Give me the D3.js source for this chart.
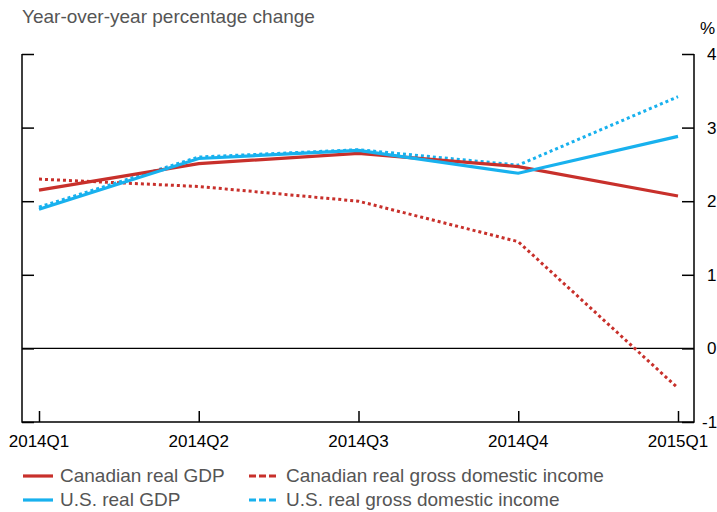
<!DOCTYPE html>
<html>
<head>
<meta charset="utf-8">
<script src="https://cdn.jsdelivr.net/npm/d3@7"></script>
<style>
  body { margin: 0; background: #fff; }
  text { font-family: "Liberation Sans", Arial, sans-serif; }
</style>
</head>
<body>
<div id="chart"></div>
<script>
// quarters along the bottom
var quarters = ["2014Q1", "2014Q2", "2014Q3", "2014Q4", "2015Q1"];
// year-over-year % change
var canGdp = [2.15, 2.51, 2.65, 2.47, 2.07];
var usGdp = [1.89, 2.58, 2.69, 2.38, 2.88];
var canGdi = [2.30, 2.20, 2.00, 1.45, -0.54];
var usGdi = [1.92, 2.60, 2.70, 2.49, 3.42];
var yTicks = [-1, 0, 1, 2, 3, 4];

var red = "#c8302b";
var blue = "#18b1ee";

var series = [
  { name: "Canadian real GDP", values: canGdp, color: red, dash: null },
  { name: "U.S. real GDP", values: usGdp, color: blue, dash: null },
  { name: "Canadian real gross domestic income", values: canGdi, color: red, dash: "3,3" },
  { name: "U.S. real gross domestic income", values: usGdi, color: blue, dash: "3,3" }
];

var svg = d3.select("#chart").append("svg")
  .attr("width", 717)
  .attr("height", 512);

var pLeft = 22, pRight = 694, pTop = 54, pBottom = 422;

var x = d3.scalePoint().domain(quarters).range([39, 678]);
var y = d3.scaleLinear().domain([-1, 4]).range([pBottom, pTop]);

// title
svg.append("text")
  .attr("x", 22).attr("y", 23)
  .style("font-size", "19px")
  .style("fill", "#555")
  .text("Year-over-year percentage change");

// zero line
svg.append("line")
  .attr("x1", pLeft).attr("x2", pRight)
  .attr("y1", y(0)).attr("y2", y(0))
  .style("stroke", "#000").style("stroke-width", 1.3);

// left axis, ticks pointing in, no labels
var leftAxis = svg.append("g").attr("transform", "translate(" + pLeft + ",0)")
  .call(d3.axisRight(y).tickValues(yTicks).tickSize(12).tickFormat(""));
// right axis with labels outside
var rightAxis = svg.append("g").attr("transform", "translate(" + pRight + ",0)")
  .call(d3.axisLeft(y).tickValues(yTicks).tickSize(12).tickFormat(""));
svg.selectAll(".yl").data(yTicks).enter().append("text")
  .attr("x", function(d) { return d < 0 ? 702 : 707; })
  .attr("y", function(d) { return y(d) + 6; })
  .style("font-size", "17px")
  .text(function(d) { return d; });
svg.append("text").attr("x", 700).attr("y", 34)
  .style("font-size", "17px").text("%");

// bottom axis, ticks up
var xAxis = svg.append("g").attr("transform", "translate(0," + pBottom + ")")
  .call(d3.axisTop(x).tickSize(11).tickFormat(""));
svg.selectAll(".xl").data(quarters).enter().append("text")
  .attr("x", function(d) { return x(d); }).attr("y", 447)
  .attr("text-anchor", "middle")
  .style("font-size", "17px")
  .text(function(d) { return d; });

[leftAxis, rightAxis, xAxis].forEach(function(g) {
  g.select(".domain").remove();
  g.selectAll("line").style("stroke", "#000").style("stroke-width", 1.5);
});
// frame lines
svg.append("path")
  .attr("d", "M" + pLeft + "," + pTop + "V" + pBottom + "H" + pRight + "V" + pTop)
  .style("fill", "none").style("stroke", "#000").style("stroke-width", 1.5);

var line = d3.line()
  .x(function(d, i) { return x(quarters[i]); })
  .y(function(d) { return y(d); });

// dashed first so solid goes over
[2, 3, 0, 1].forEach(function(i) {
  var s = series[i];
  svg.append("path")
    .datum(s.values)
    .attr("d", line)
    .style("fill", "none")
    .style("stroke", s.color)
    .style("stroke-width", s.dash ? 3 : 3.2)
    .style("stroke-dasharray", s.dash);
});

// legend
var leg = svg.selectAll(".leg").data(series).enter().append("g")
  .attr("transform", function(d, i) {
    return "translate(" + (i < 2 ? 23 : 249) + "," + (i % 2 == 0 ? 476 : 500) + ")";
  });
leg.append("line")
  .attr("x1", 0).attr("x2", 30)
  .style("stroke", function(d) { return d.color; })
  .style("stroke-width", 3.2)
  .style("stroke-dasharray", function(d) { return d.dash ? "7,3" : null; });
leg.append("text")
  .attr("x", 37).attr("y", 6)
  .style("font-size", "19px")
  .style("fill", "#555")
  .text(function(d) { return d.name; });
</script>
</body>
</html>
